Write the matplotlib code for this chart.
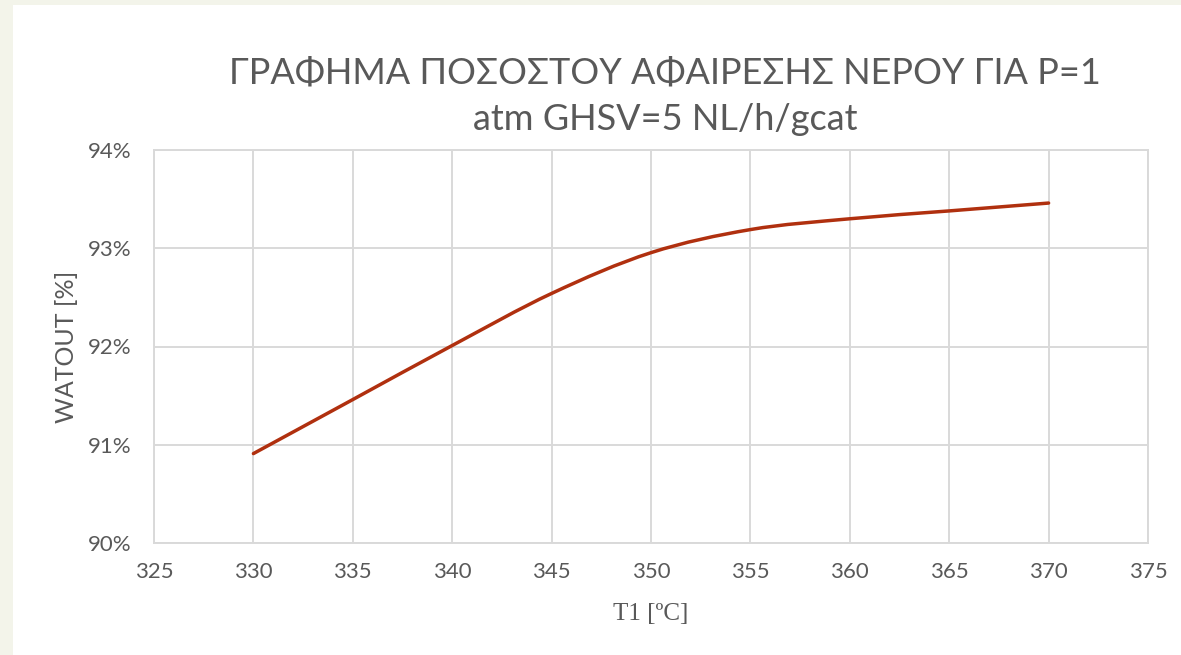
import matplotlib.pyplot as plt
import matplotlib.patches as mpatches
from matplotlib.path import Path
from matplotlib.ticker import FuncFormatter

# data
temps = [330, 335, 340, 345, 350, 355, 360, 365, 370]
watout = [90.91, 91.46, 92.01, 92.54, 92.955, 93.19, 93.30, 93.38, 93.46]

x_ticks = [325, 330, 335, 340, 345, 350, 355, 360, 365, 370, 375]
y_ticks = [90, 91, 92, 93, 94]

text_color = '#595959'
grid_color = '#d9d9d9'
line_color = '#b0300f'
frame_color = '#f3f4ea'

fig = plt.figure(figsize=(11.81, 6.55), dpi=100)
fig.patch.set_facecolor(frame_color)
# white slide area
fig.add_artist(mpatches.Rectangle((13 / 1181, 0), 1, 1 - 5 / 655,
                                  transform=fig.transFigure,
                                  facecolor='white', edgecolor='none', zorder=0))

ax = fig.add_axes([154 / 1181, 1 - 543 / 655, (1148 - 154) / 1181, (543 - 150) / 655])
ax.set_facecolor('white')
ax.set_xlim(325, 375)
ax.set_ylim(90, 94)
ax.set_xticks(x_ticks)
ax.set_yticks(y_ticks)
ax.yaxis.set_major_formatter(FuncFormatter(lambda v, p: f'{v:.0f}%'))
ax.grid(True, color=grid_color, lw=1.4)
ax.set_axisbelow(True)
for s in ax.spines.values():
    s.set_color(grid_color)
    s.set_linewidth(1.4)
ax.tick_params(length=0, labelsize=16, colors=text_color)
ax.tick_params(axis='x', pad=14)
ax.tick_params(axis='y', pad=16)
for lab in ax.get_xticklabels() + ax.get_yticklabels():
    lab.set_family('Lato')

# smoothed line (Catmull-Rom -> cubic bezier through the data points)
verts = [(temps[0], watout[0])]
codes = [Path.MOVETO]
n = len(temps)
for i in range(n - 1):
    p0 = (temps[max(i - 1, 0)], watout[max(i - 1, 0)])
    p1 = (temps[i], watout[i])
    p2 = (temps[i + 1], watout[i + 1])
    p3 = (temps[min(i + 2, n - 1)], watout[min(i + 2, n - 1)])
    c1 = (p1[0] + (p2[0] - p0[0]) / 6, p1[1] + (p2[1] - p0[1]) / 6)
    c2 = (p2[0] - (p3[0] - p1[0]) / 6, p2[1] - (p3[1] - p1[1]) / 6)
    verts += [c1, c2, p2]
    codes += [Path.CURVE4] * 3
ax.add_patch(mpatches.PathPatch(Path(verts, codes), facecolor='none',
                                edgecolor=line_color, lw=2.5,
                                capstyle='round', zorder=3))

fig.text(665 / 1181, 1 - 83 / 655, 'ΓΡΑΦΗΜΑ ΠΟΣΟΣΤΟΥ ΑΦΑΙΡΕΣΗΣ ΝΕΡΟΥ ΓΙΑ P=1',
         ha='center', va='baseline', fontsize=26, color=text_color,
         family='Lato')
fig.text(665 / 1181, 1 - 130 / 655, 'atm GHSV=5 NL/h/gcat',
         ha='center', va='baseline', fontsize=26, color=text_color,
         family='Lato')

fig.text(66 / 1181, 1 - 347 / 655, 'WATOUT [%]', rotation=90,
         ha='center', va='center', fontsize=18, color=text_color,
         family='Lato')
fig.text(651 / 1181, 1 - 614 / 655, 'T1 [ºC]',
         ha='center', va='center', fontsize=18, color=text_color,
         family='Liberation Serif')

plt.savefig('out.png', dpi=100, facecolor=fig.get_facecolor())
